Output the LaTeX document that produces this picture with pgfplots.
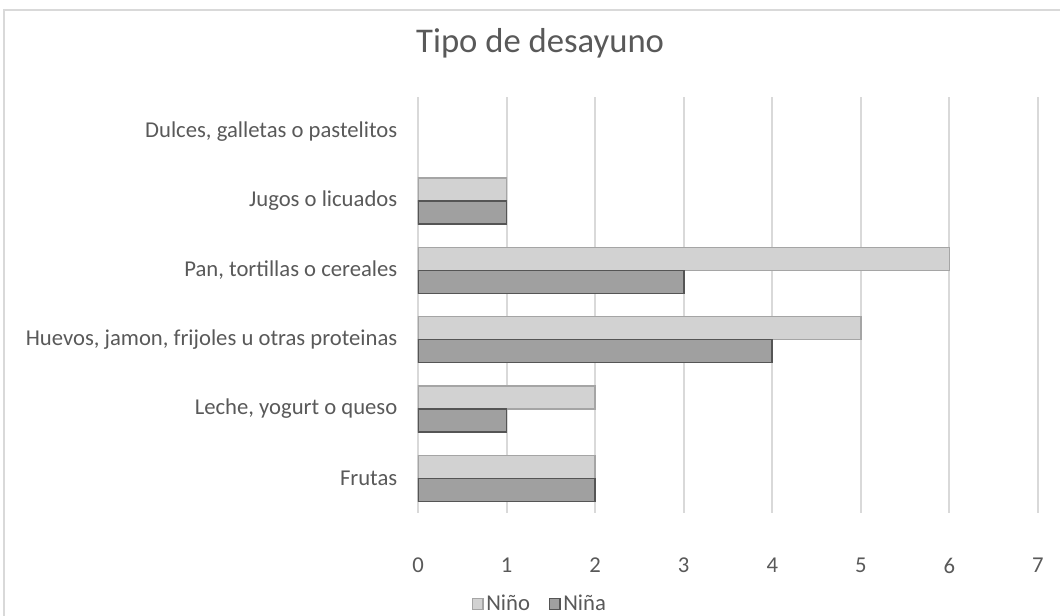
\documentclass[border=0pt]{standalone}
\usepackage{pgfplots}
\pgfplotsset{compat=1.18}
\usepackage{fontspec}
\setmainfont{Carlito}
\definecolor{txt}{RGB}{89,89,89}
\definecolor{grid}{RGB}{217,217,217}
\definecolor{ninofill}{RGB}{210,210,210}
\definecolor{ninodraw}{RGB}{165,165,165}
\definecolor{ninafill}{RGB}{160,160,160}
\definecolor{ninadraw}{RGB}{85,85,85}
\begin{document}
\begin{tikzpicture}
\useasboundingbox (-313.5pt,-77.25pt) rectangle (481.5pt,384.75pt);
\draw[color=grid,line width=1.2pt] (-310.5pt,-90pt) -- (-310.5pt,377.25pt) -- (500pt,377.25pt);
\begin{axis}[
  at={(0,0)}, anchor=south west,
  scale only axis, width=465pt, height=312pt,
  xbar, bar width=17.25pt,
  xmin=0, xmax=7, ymin=-0.5, ymax=5.5,
  xtick={0,...,7},
  ytick={0,...,5},
  yticklabels={Frutas, {Leche, yogurt o queso}, {Huevos, jamon, frijoles u otras proteinas}, {Pan, tortillas o cereales}, Jugos o licuados, {Dulces, galletas o pastelitos}},
  axis line style={draw=none},
  major tick length=0pt,
  xmajorgrids, major grid style={color=grid,line width=1.5pt},
  ticklabel style={font=\fontsize{17}{20}\selectfont, text=txt},
  /pgf/number format/assume math mode=true,
  xticklabel style={yshift=-30pt},
  yticklabel style={xshift=-12pt},
  title={Tipo de desayuno},
  title style={font=\fontsize{26}{30}\selectfont, text=txt, at={(0.197,1)}, anchor=center, yshift=34pt},
  legend style={draw=none, at={(0.197,-0.219)}, anchor=center, legend columns=2,
    font=\fontsize{17}{20}\selectfont, text=txt, /tikz/every even column/.append style={column sep=12pt}},
  legend image code/.code={\draw[#1,line width=1pt] (0pt,-4pt) rectangle (8pt,4pt);},
]
\addplot[fill=ninofill, draw=ninodraw, line width=1.2pt, bar shift=8.625pt] coordinates {(2,0) (2,1) (5,2) (6,3) (1,4)};
\addplot[fill=ninafill, draw=ninadraw, line width=1.2pt, bar shift=-8.625pt] coordinates {(2,0) (1,1) (4,2) (3,3) (1,4)};
\legend{Niño, Niña}
\end{axis}
\end{tikzpicture}
\end{document}
